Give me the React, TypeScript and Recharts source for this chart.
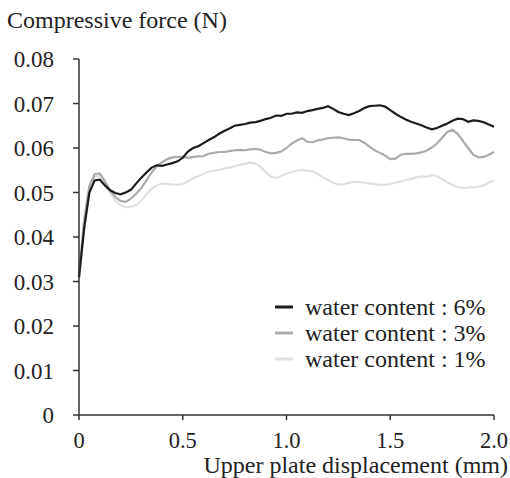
import React from "react";
import { LineChart, Line, XAxis, YAxis, Legend, Label } from "recharts";

const displacement = [
  0, 0.025, 0.05, 0.075, 0.1, 0.125, 0.15, 0.175, 0.2, 0.225,
  0.25, 0.275, 0.3, 0.325, 0.35, 0.375, 0.4, 0.425, 0.45, 0.475,
  0.5, 0.525, 0.55, 0.575, 0.6, 0.625, 0.65, 0.675, 0.7, 0.725,
  0.75, 0.775, 0.8, 0.825, 0.85, 0.875, 0.9, 0.925, 0.95, 0.975,
  1.0, 1.025, 1.05, 1.075, 1.1, 1.125, 1.15, 1.175, 1.2, 1.225,
  1.25, 1.275, 1.3, 1.325, 1.35, 1.375, 1.4, 1.425, 1.45, 1.475,
  1.5, 1.525, 1.55, 1.575, 1.6, 1.625, 1.65, 1.675, 1.7, 1.725,
  1.75, 1.775, 1.8, 1.825, 1.85, 1.875, 1.9, 1.925, 1.95, 1.975, 2.0,
];

const water6 = [
  0.031, 0.042, 0.05, 0.0527, 0.0529, 0.0516, 0.0505, 0.0499, 0.0496, 0.05,
  0.0506, 0.052, 0.0533, 0.0545, 0.0556, 0.0561, 0.056, 0.0563, 0.0566, 0.057,
  0.0578, 0.0592, 0.06, 0.0604, 0.0611, 0.0618, 0.0624, 0.0632, 0.0638, 0.0644,
  0.065, 0.0652, 0.0654, 0.0657, 0.0658, 0.0661, 0.0665, 0.0668, 0.0673, 0.0672,
  0.0677, 0.0677, 0.068, 0.0679, 0.0683, 0.0685, 0.0688, 0.069, 0.0694, 0.0688,
  0.0681, 0.0677, 0.0674, 0.0678, 0.0683, 0.069, 0.0694, 0.0695, 0.0696, 0.0693,
  0.0685, 0.0677, 0.067, 0.0664, 0.0659, 0.0655, 0.0651, 0.0646, 0.0642, 0.0645,
  0.065, 0.0655, 0.0661, 0.0666, 0.0665, 0.0659, 0.0662, 0.0661, 0.0658, 0.0653, 0.0648,
];

const water3 = [
  0.031, 0.044, 0.0515, 0.0541, 0.0543, 0.0525, 0.0505, 0.049, 0.0481, 0.0479,
  0.0486, 0.0497, 0.051, 0.0527, 0.0545, 0.0559, 0.0568, 0.0575, 0.0579, 0.058,
  0.058, 0.0578, 0.058, 0.0581, 0.0582, 0.0587, 0.0589, 0.0591, 0.0591, 0.0593,
  0.0595, 0.0596, 0.0595, 0.0597, 0.0598, 0.0596, 0.0591, 0.0588, 0.0589, 0.0592,
  0.06, 0.061, 0.0617, 0.0622, 0.0614, 0.0613, 0.0617, 0.0619, 0.0622, 0.0623,
  0.0624, 0.0622, 0.0619, 0.0618, 0.0618, 0.0612, 0.0603, 0.0595, 0.0589, 0.0583,
  0.0575, 0.0576, 0.0585, 0.0587, 0.0587, 0.0588, 0.059, 0.0594, 0.0601, 0.061,
  0.0623, 0.0636, 0.0641, 0.0632, 0.0616, 0.06, 0.0585, 0.0579, 0.058, 0.0585, 0.0591,
];

const water1 = [
  0.0305, 0.042, 0.0505, 0.0535, 0.0539, 0.052, 0.0498, 0.0482, 0.0472, 0.0467,
  0.0468, 0.0472, 0.0482, 0.0496, 0.0508, 0.0516, 0.052, 0.0519, 0.0518, 0.0517,
  0.0519, 0.0525, 0.0532, 0.0537, 0.0542, 0.0547, 0.0549, 0.0551, 0.0554, 0.0556,
  0.0559, 0.0562, 0.0565, 0.0567, 0.0565, 0.0558, 0.0545, 0.0536, 0.0533, 0.0537,
  0.0542, 0.0546, 0.0549, 0.0551, 0.0549, 0.0548, 0.0542, 0.0534, 0.0528, 0.0522,
  0.0518, 0.0518, 0.0522, 0.0524, 0.0523, 0.0522, 0.052, 0.0519, 0.0517, 0.0517,
  0.0519, 0.0522, 0.0525, 0.0528, 0.053, 0.0534, 0.0536, 0.0535, 0.0539, 0.0537,
  0.053, 0.0523, 0.0517, 0.0512, 0.051, 0.0511, 0.0512, 0.0513, 0.0516, 0.0522, 0.0527,
];

const xTicks = [0, 0.5, 1.0, 1.5, 2.0];
const yTicks = [0, 0.01, 0.02, 0.03, 0.04, 0.05, 0.06, 0.07, 0.08];

const seriesNames = ["water content : 6%", "water content : 3%", "water content : 1%"];
const seriesKeys = ["w6", "w3", "w1"];
const seriesColors = ["#1c1c1c", "#ababab", "#e0e0e0"];

const data = displacement.map((x, i) => ({
  x,
  w6: water6[i],
  w3: water3[i],
  w1: water1[i],
}));

const FONT = "'Liberation Serif', 'Times New Roman', serif";
const TEXT = "#222";

const LegendBox = () => (
  <div style={{ fontFamily: FONT, fontSize: 24, color: TEXT }}>
    {seriesNames.map((name, i) => (
      <div key={name} style={{ display: "flex", alignItems: "center", height: 26 }}>
        <svg width={35} height={26} style={{ display: "block" }}>
          <line x1={5} x2={23} y1={13} y2={13} stroke={seriesColors[i]} strokeWidth={3} />
        </svg>
        <span style={{ lineHeight: "26px", whiteSpace: "nowrap" }}>{name}</span>
      </div>
    ))}
  </div>
);

export default function App() {
  return (
    <div style={{ position: "absolute", left: 0, top: 0, background: "#fff" }}>
      <LineChart
        width={510}
        height={478}
        data={data}
        margin={{ top: 59, right: 16, left: 0, bottom: 0 }}
      >
        <XAxis
          dataKey="x"
          type="number"
          domain={[0, 2]}
          ticks={xTicks}
          tickFormatter={(v: number) => (v === 0 ? "0" : v.toFixed(1))}
          height={63}
          stroke="#333"
          strokeWidth={1.5}
          tickSize={5}
          tickMargin={12}
          tick={{ fill: TEXT, fontFamily: FONT, fontSize: 22.5 }}
          tickLine={{ stroke: "#333" }}
        >
          <Label
            content={() => (
              <text x={508} y={473} textAnchor="end" fill={TEXT} fontFamily={FONT} fontSize={24}>
                Upper plate displacement (mm)
              </text>
            )}
          />
        </XAxis>
        <YAxis
          type="number"
          domain={[0, 0.08]}
          ticks={yTicks}
          tickFormatter={(v: number) => (v === 0 ? "0" : v.toFixed(2))}
          width={79}
          stroke="#333"
          strokeWidth={1.5}
          tickSize={6}
          tickMargin={19}
          tick={{ fill: TEXT, fontFamily: FONT, fontSize: 23 }}
          tickLine={{ stroke: "#333" }}
        >
          <Label
            content={() => (
              <text x={7} y={28} textAnchor="start" fill={TEXT} fontFamily={FONT} fontSize={24}>
                Compressive force (N)
              </text>
            )}
          />
        </YAxis>
        <Legend
          layout="horizontal"
          verticalAlign="middle"
          align="center"
          content={() => <LegendBox />}
          wrapperStyle={{ left: 270, top: 294, width: 240, height: 80 }}
        />
        {[2, 1, 0].map((i) => (
          <Line
            key={seriesKeys[i]}
            dataKey={seriesKeys[i]}
            name={seriesNames[i]}
            stroke={seriesColors[i]}
            strokeWidth={2.2}
            dot={false}
            type="linear"
            isAnimationActive={false}
          />
        ))}
      </LineChart>
    </div>
  );
}
